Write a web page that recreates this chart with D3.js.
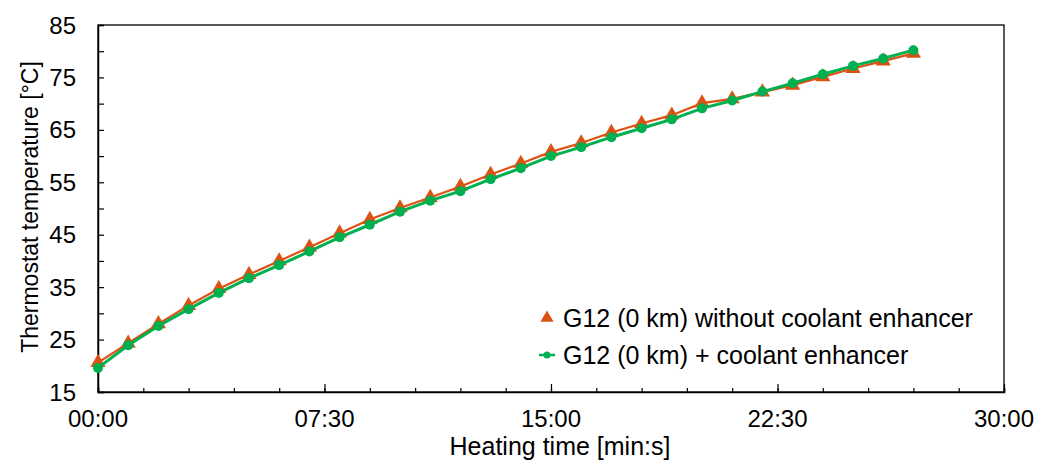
<!DOCTYPE html>
<html>
<head>
<meta charset="utf-8">
<script src="https://cdn.jsdelivr.net/npm/d3@7"></script>
<style>
  body { margin: 0; background: #fff; }
  text { font-family: "Liberation Sans", Arial, sans-serif; }
</style>
</head>
<body>
<div id="wrapper"></div>
<script>
// heating time in minutes
const timeMin = [0, 1, 2, 3, 4, 5, 6, 7, 8, 9, 10, 11, 12, 13, 14, 15, 16, 17, 18, 19, 20, 21, 22, 23, 24, 25, 26, 27];
// G12 (0 km) without coolant enhancer
const withoutEnh = [20.6, 24.3, 28.0, 31.5, 34.7, 37.4, 40.0, 42.6, 45.3, 47.9, 50.1, 52.1, 54.2, 56.5, 58.6, 60.8, 62.5, 64.5, 66.2, 67.8, 70.1, 70.9, 72.2, 73.5, 75.1, 76.7, 78.1, 79.6];
// G12 (0 km) + coolant enhancer
const withEnh = [19.6, 23.9, 27.6, 30.8, 33.9, 36.7, 39.2, 41.8, 44.5, 46.9, 49.4, 51.5, 53.3, 55.6, 57.7, 60.0, 61.7, 63.6, 65.3, 67.0, 69.1, 70.6, 72.3, 73.9, 75.6, 77.2, 78.6, 80.2];
const seriesNames = ["G12 (0 km) without coolant enhancer", "G12 (0 km) + coolant enhancer"];
const yTickLabels = [15, 25, 35, 45, 55, 65, 75, 85];
const xTickLabels = ["00:00", "07:30", "15:00", "22:30", "30:00"];

const red = "#dc5213";
const green = "#00b050";

const width = 1051, height = 461;
const margin = { top: 25, right: 47, bottom: 69, left: 98 };
const boundedWidth = width - margin.left - margin.right;
const boundedHeight = height - margin.top - margin.bottom;

const svg = d3.select("#wrapper")
    .append("svg")
    .attr("width", width)
    .attr("height", height);

const bounds = svg.append("g")
    .attr("transform", `translate(${margin.left},${margin.top})`);

const xScale = d3.scaleLinear().domain([0, 1800]).range([0, boundedWidth]);
const yScale = d3.scaleLinear().domain([15, 85]).range([boundedHeight, 0]);

// frame
bounds.append("rect")
    .attr("width", boundedWidth)
    .attr("height", boundedHeight)
    .attr("fill", "none")
    .attr("stroke", "#000")
    .attr("stroke-width", 1.3);

// y axis: ticks every 5 inward, labels every 10
const yAxis = bounds.append("g")
    .call(d3.axisLeft(yScale).tickValues(d3.range(15, 86, 5)).tickSize(-6).tickFormat(""));
yAxis.select(".domain").attr("stroke-width", 1.5);
yAxis.selectAll(".tick line").attr("stroke-width", 1.2);
bounds.append("g").selectAll("text")
    .data(yTickLabels)
    .join("text")
    .attr("x", -22)
    .attr("y", d => yScale(d))
    .attr("dy", "0.36em")
    .attr("text-anchor", "end")
    .attr("font-size", "24px")
    .attr("fill", "#000")
    .text(d => d);

// x axis: minor ticks every 90 s, major every 450 s
const xAxisMinor = bounds.append("g")
    .attr("transform", `translate(0,${boundedHeight})`)
    .call(d3.axisBottom(xScale).tickValues(d3.range(0, 1801, 90)).tickSize(-4).tickFormat(""));
xAxisMinor.select(".domain").attr("stroke-width", 1.5);
xAxisMinor.selectAll(".tick line").attr("stroke-width", 1.2);
const xAxisMajor = bounds.append("g")
    .attr("transform", `translate(0,${boundedHeight})`)
    .call(d3.axisBottom(xScale).tickValues(d3.range(0, 1801, 450)).tickSize(-8).tickFormat(""));
xAxisMajor.select(".domain").remove();
xAxisMajor.selectAll(".tick line").attr("stroke-width", 1.2);
bounds.append("g").selectAll("text")
    .data(xTickLabels)
    .join("text")
    .attr("x", (d, i) => xScale(i * 450))
    .attr("y", boundedHeight + 35)
    .attr("text-anchor", "middle")
    .attr("font-size", "24px")
    .attr("fill", "#000")
    .text(d => d);

// axis titles
svg.append("text")
    .attr("x", 560)
    .attr("y", 455)
    .attr("text-anchor", "middle")
    .attr("font-size", "25px")
    .text("Heating time [min:s]");
svg.append("text")
    .attr("transform", `translate(38,207) rotate(-90)`)
    .attr("text-anchor", "middle")
    .attr("font-size", "23px")
    .text("Thermostat temperature [°C]");

// lines
const line = d3.line()
    .x((d, i) => xScale(timeMin[i] * 60))
    .y(d => yScale(d));

bounds.append("path")
    .datum(withoutEnh)
    .attr("d", line)
    .attr("fill", "none")
    .attr("stroke", red)
    .attr("stroke-width", 2.2);

bounds.append("g").selectAll("path")
    .data(withoutEnh)
    .join("path")
    .attr("transform", (d, i) => `translate(${xScale(timeMin[i] * 60)},${yScale(d)})`)
    .attr("d", d3.symbol(d3.symbolTriangle, 100))
    .attr("fill", red);

bounds.append("path")
    .datum(withEnh)
    .attr("d", line)
    .attr("fill", "none")
    .attr("stroke", green)
    .attr("stroke-width", 3);

bounds.append("g").selectAll("circle")
    .data(withEnh)
    .join("circle")
    .attr("cx", (d, i) => xScale(timeMin[i] * 60))
    .attr("cy", d => yScale(d))
    .attr("r", 5)
    .attr("fill", green);

// legend
const legend = svg.append("g").attr("transform", "translate(547,0)");
legend.append("path")
    .attr("transform", "translate(0,318)")
    .attr("d", d3.symbol(d3.symbolTriangle, 75))
    .attr("fill", red);
legend.append("line")
    .attr("x1", -8).attr("x2", 8)
    .attr("y1", 355).attr("y2", 355)
    .attr("stroke", green)
    .attr("stroke-width", 2.5);
legend.append("circle")
    .attr("cx", 0).attr("cy", 355).attr("r", 3.5)
    .attr("fill", green);
legend.selectAll("text.lbl")
    .data(seriesNames)
    .join("text")
    .attr("class", "lbl")
    .attr("x", 16)
    .attr("y", (d, i) => 318 + i * 37)
    .attr("dy", "0.36em")
    .attr("font-size", "25px")
    .attr("fill", "#000")
    .text(d => d);
</script>
</body>
</html>
